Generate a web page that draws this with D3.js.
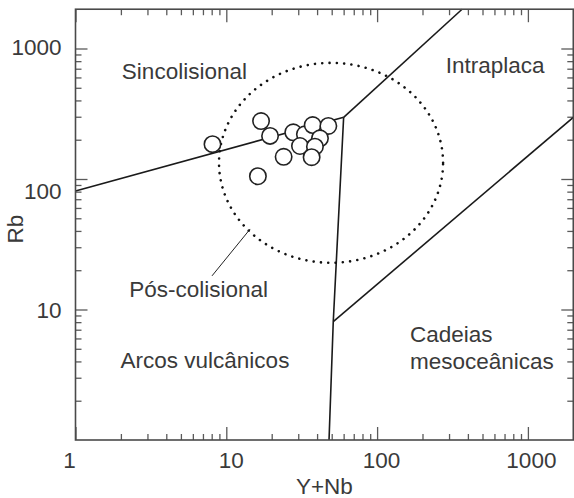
<!DOCTYPE html>
<html>
<head>
<meta charset="utf-8">
<script src="https://cdn.jsdelivr.net/npm/d3@7"></script>
<style>
  html, body { margin: 0; padding: 0; background: #fff; }
  svg { display: block; }
  text { font-family: "Liberation Sans", Arial, Helvetica, sans-serif; fill: #3a3a3a; }
</style>
</head>
<body>
<svg id="chart" width="574" height="498"></svg>
<script>
// ---------- data ----------
const xMajorTicks = [1, 10, 100, 1000];
const xTickLabels = ["1", "10", "100", "1000"];
const yMajorTicks = [10, 100, 1000];
const yTickLabels = ["10", "100", "1000"];
const minorMultipliers = [2, 3, 4, 5, 6, 7, 8, 9];

// samples: Y+Nb (ppm), Rb (ppm)
const sampleYNb = [8.1, 17.0, 19.5, 27.8, 24.0, 16.2, 33.2, 37.4, 47.5, 41.8, 30.8, 38.7, 36.8];
const sampleRb  = [185, 278, 214, 228, 148, 105, 220, 259, 255, 205, 179, 177, 147];

// field boundaries (Y+Nb, Rb)
const boundaryVagSyn   = [[1, 81], [60, 297]];
const boundarySynWpg   = [[60, 297], [366, 2000]];
const boundaryVagOrg   = [[60, 297], [51.2, 8.06], [48, 1]];
const boundaryWpgOrg   = [[51.2, 8.06], [2000, 297]];
const leaderLine       = [[8.04, 18.1], [14.4, 41.4]];

// post-collisional field: circle in log space (centre Y+Nb, Rb; radii in decades)
const postColCentre = [49.5, 133];
const postColRadii  = [0.743, 0.766];

// field names
const fieldNames = ["Sincolisional", "Intraplaca", "Pós-colisional", "Arcos vulcânicos", "Cadeias", "mesoceânicas"];
const fieldAnchors = [[2.03, 584], [285, 653], [2.27, 12.4], [1.99, 3.54], [165, 5.67], [165, 3.48]];

const xTitle = "Y+Nb";
const yTitle = "Rb";

// ---------- layout ----------
const svg = d3.select("#chart");
const left = 75.5, bottom = 440;
const decX = 150.8, decY = 130.5;
const x = d3.scaleLog().domain([1, 2000]).range([left, left + Math.log10(2000) * decX]);
const y = d3.scaleLog().domain([1, 2000]).range([bottom, bottom - Math.log10(2000) * decY]);
const [x0, x1] = x.range();
const [y0, y1] = y.range();

const minorsFor = (decades, max) => {
  const out = [];
  decades.forEach(d => minorMultipliers.forEach(m => { if (m * d < max) out.push(m * d); }));
  return out;
};
const xMinor = minorsFor([1, 10, 100, 1000], 2000);
const yMinor = minorsFor([1, 10, 100, 1000], 2000);

const tickColor = "#5a5a5a";
function styleAxis(g) {
  g.select(".domain").remove();
  g.selectAll("text").remove();
  g.selectAll("line").attr("stroke", tickColor).attr("stroke-width", 1.3);
}
// bottom / top
svg.append("g").attr("transform", `translate(0,${y0})`)
  .call(d3.axisBottom(x).tickValues(xMajorTicks).tickSize(-13)).call(styleAxis);
svg.append("g").attr("transform", `translate(0,${y0})`)
  .call(d3.axisBottom(x).tickValues(xMinor).tickSize(-6)).call(styleAxis);
svg.append("g").attr("transform", `translate(0,${y1})`)
  .call(d3.axisTop(x).tickValues(xMajorTicks).tickSize(-13)).call(styleAxis);
svg.append("g").attr("transform", `translate(0,${y1})`)
  .call(d3.axisTop(x).tickValues(xMinor).tickSize(-6)).call(styleAxis);
// left / right
svg.append("g").attr("transform", `translate(${x0},0)`)
  .call(d3.axisLeft(y).tickValues(yMajorTicks).tickSize(-12)).call(styleAxis);
svg.append("g").attr("transform", `translate(${x0},0)`)
  .call(d3.axisLeft(y).tickValues(yMinor).tickSize(-6)).call(styleAxis);
svg.append("g").attr("transform", `translate(${x1},0)`)
  .call(d3.axisRight(y).tickValues(yMajorTicks).tickSize(-12)).call(styleAxis);
svg.append("g").attr("transform", `translate(${x1},0)`)
  .call(d3.axisRight(y).tickValues(yMinor).tickSize(-6)).call(styleAxis);

// boundaries
const line = d3.line().x(d => x(d[0])).y(d => y(d[1]));
[boundaryVagSyn, boundarySynWpg, boundaryVagOrg, boundaryWpgOrg].forEach(b => {
  svg.append("path").attr("d", line(b)).attr("fill", "none")
    .attr("stroke", "#1a1a1a").attr("stroke-width", 1.6).attr("stroke-linejoin", "round");
});

// post-collisional dotted field
const lcx = Math.log10(postColCentre[0]), lcy = Math.log10(postColCentre[1]);
const ellipsePts = d3.range(0, 361, 2).map(a => {
  const t = a * Math.PI / 180;
  return [Math.pow(10, lcx + postColRadii[0] * Math.cos(t)), Math.pow(10, lcy + postColRadii[1] * Math.sin(t))];
});
svg.append("path").attr("d", d3.line().x(d => x(d[0])).y(d => y(d[1])).curve(d3.curveLinearClosed)(ellipsePts))
  .attr("fill", "none").attr("stroke", "#111").attr("stroke-width", 2.6)
  .attr("stroke-linecap", "round").attr("stroke-dasharray", "0.01 7.3");

// leader line
svg.append("path").attr("d", line(leaderLine)).attr("fill", "none")
  .attr("stroke", "#222").attr("stroke-width", 1);

// frame
svg.append("rect").attr("x", x0).attr("y", y1).attr("width", x1 - x0).attr("height", y0 - y1)
  .attr("fill", "none").attr("stroke", "#4a4a4a").attr("stroke-width", 1.6);

// samples
svg.append("g").selectAll("circle").data(sampleYNb.map((v, i) => [v, sampleRb[i]])).join("circle")
  .attr("cx", d => x(d[0])).attr("cy", d => y(d[1])).attr("r", 8.2)
  .attr("fill", "#fff").attr("stroke", "#222").attr("stroke-width", 1.6);

// tick labels
const fs = 22.5;
const xNudge = {1: -6, 10: 5, 100: 4.5, 1000: 3.5};
svg.append("g").selectAll("text").data(xMajorTicks).join("text")
  .attr("x", d => x(d) + xNudge[d]).attr("y", 467.5).attr("text-anchor", "middle")
  .attr("font-size", fs).text((d, i) => xTickLabels[i]);
const yNudge = {10: 8.3, 100: 19.6, 1000: 6.7};
svg.append("g").selectAll("text").data(yMajorTicks).join("text")
  .attr("x", 61.5).attr("y", d => y(d) + yNudge[d]).attr("text-anchor", "end")
  .attr("font-size", fs).text((d, i) => yTickLabels[i]);

// axis titles
svg.append("text").attr("x", (x0 + x1) / 2).attr("y", 494).attr("text-anchor", "middle")
  .attr("font-size", fs).text(xTitle);
svg.append("text").attr("transform", "translate(23.3,229) rotate(-90)").attr("text-anchor", "middle")
  .attr("font-size", fs).text(yTitle);

// field names
svg.append("g").selectAll("text").data(fieldNames).join("text")
  .attr("x", (d, i) => x(fieldAnchors[i][0])).attr("y", (d, i) => y(fieldAnchors[i][1]))
  .attr("font-size", fs).text(d => d);
</script>
</body>
</html>
